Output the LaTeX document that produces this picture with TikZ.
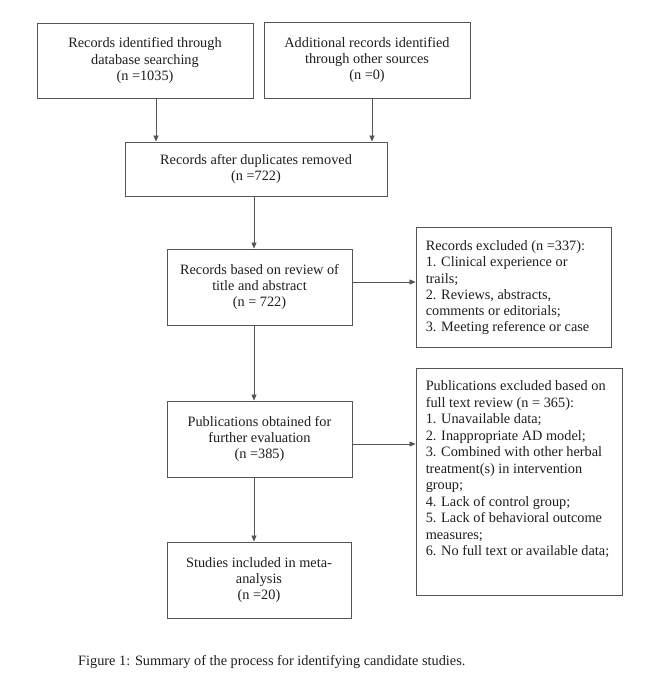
\documentclass[tikz,border=0pt]{standalone}
\usepackage{fontspec}
\setmainfont{Liberation Serif}
\usetikzlibrary{arrows.meta}
\definecolor{linegray}{HTML}{555555}
\definecolor{txt}{HTML}{1E1E1E}
\begin{document}
\begin{tikzpicture}[x=1pt,y=-1pt,
  box/.style={draw=linegray, line width=0.9pt, inner sep=0pt, text=txt, align=center,
    font=\fontsize{14.3}{16.2}\selectfont},
  lbox/.style={draw=linegray, line width=0.9pt, inner sep=0pt},
  ltext/.style={anchor=north west, inner sep=0pt, align=left, text=txt},
  arr/.style={draw=linegray, line width=0.8pt, -{Triangle[length=6pt,width=5pt]}}]
\useasboundingbox (0,0) rectangle (650,700);
\fill[white] (0,0) rectangle (650,700);

\node[box, minimum width=216pt, minimum height=75pt] (b1) at (145,60.5)
  {Records identified through\\database searching\\(n =1035)};
\node[box, minimum width=206pt, minimum height=76pt] (b2) at (367,60)
  {Additional records identified\\through other sources\\(n =0)};
\node[box, minimum width=262pt, minimum height=54pt] (b3) at (256,169)
  {Records after duplicates removed\\(n =722)};
\node[box, minimum width=185pt, minimum height=76pt] (b4) at (259.5,287)
  {Records based on review of\\title and abstract\\(n = 722)};
\node[box, minimum width=185pt, minimum height=76pt] (b6) at (259.5,439)
  {Publications obtained for\\further evaluation\\(n =385)};
\node[box, minimum width=184pt, minimum height=76pt] (b7) at (259,580)
  {Studies included in meta-\\analysis\\(n =20)};

\node[lbox, minimum width=195pt, minimum height=120pt] (b5) at (513.5,287) {};
\node[ltext, font=\fontsize{14.3}{16.2}\selectfont] (b5t) at ([shift={(10,14)}]b5.north west)
  {Records excluded (n =337):\\1. Clinical experience or\\trails;\\2. Reviews, abstracts,\\comments or editorials;\\3. Meeting reference or case};

\node[lbox, minimum width=206pt, minimum height=227pt] (b8) at (519,481.5) {};
\node[ltext, font=\fontsize{14.3}{16.5}\selectfont] (b8t) at ([shift={(10,13)}]b8.north west)
  {Publications excluded based on\\full text review (n = 365):\\1. Unavailable data;\\2. Inappropriate AD model;\\3. Combined with other herbal\\treatment(s) in intervention\\group;\\4. Lack of control group;\\5. Lack of behavioral outcome\\measures;\\6. No full text or available data;};

\coordinate (x1) at (156,0);
\coordinate (x2) at (372,0);
\coordinate (xm) at (254,0);
\coordinate (y1) at (0,282);
\coordinate (y2) at (0,444);

\draw[arr] (b1.south -| x1) -- (b3.north -| x1);
\draw[arr] (b2.south -| x2) -- (b3.north -| x2);
\draw[arr] (b3.south -| xm) -- (b4.north -| xm);
\draw[arr] (b4.south -| xm) -- (b6.north -| xm);
\draw[arr] (b6.south -| xm) -- (b7.north -| xm);
\draw[arr] (b4.east |- y1) -- (b5.west |- y1);
\draw[arr] (b6.east |- y2) -- (b8.west |- y2);

\node[anchor=west, inner sep=0pt, text=txt, font=\fontsize{14.3}{16}\selectfont] (cap) at (78,662)
  {Figure 1: Summary of the process for identifying candidate studies.};
\end{tikzpicture}
\end{document}
